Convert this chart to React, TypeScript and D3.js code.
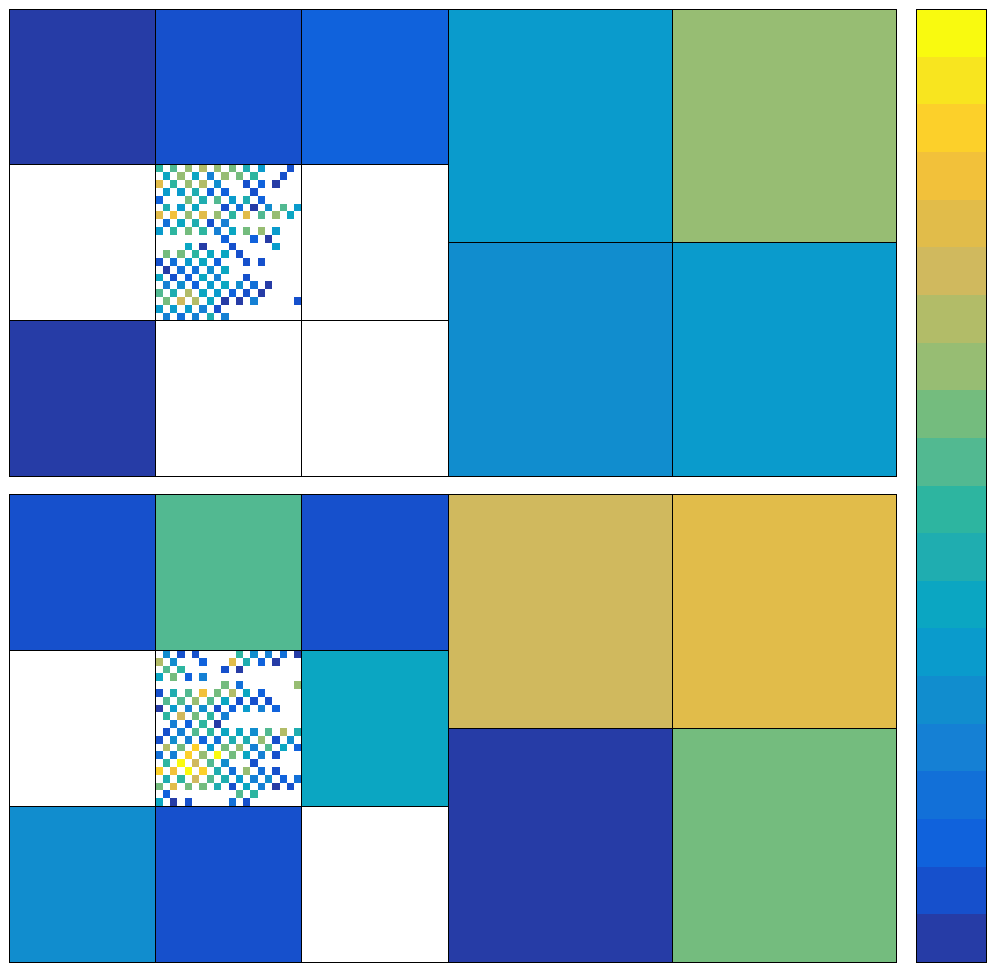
import React from "react";
import * as d3 from "d3";

const W = 996;
const H = 972;

// 20-level parula, low -> high
const levelColors = [
  "#263ca6", "#1650cc", "#1062dc", "#1270d8", "#1580d4",
  "#118dce", "#0a9bcc", "#0ba6c2", "#1fadb0", "#2db5a0",
  "#52b991", "#74bc7e", "#97bd73", "#b2bc68", "#d0b95e",
  "#e1bc4a", "#f2c13a", "#fcd02a", "#f8e51f", "#f9fa0f",
];

const FINE = "fine";
type Block = number | null | typeof FINE;

// 3x3 blocks (20x20 each) on the left, 2x2 blocks (30x30 each) on the right
const topLeftBlocks: Block[][] = [
  [0, 1, 2],
  [null, FINE, null],
  [0, null, null],
];
const topRightBlocks: Block[][] = [
  [6, 12],
  [5, 6],
];
const bottomLeftBlocks: Block[][] = [
  [1, 10, 1],
  [null, FINE, 7],
  [5, 1, null],
];
const bottomRightBlocks: Block[][] = [
  [14, 15],
  [0, 11],
];

// fine cells of the refined block: [row, col, level]
const topFineCells: [number, number, number][] = [
  [0, 0, 9], [0, 2, 10], [0, 4, 12], [0, 6, 13], [0, 8, 12], [0, 10, 11], [0, 12, 8], [0, 14, 6], [0, 18, 1],
  [1, 1, 7], [1, 3, 12], [1, 5, 7], [1, 7, 4], [1, 9, 12], [1, 11, 11], [1, 13, 9], [1, 17, 1],
  [2, 0, 15], [2, 2, 9], [2, 4, 12], [2, 6, 13], [2, 8, 5], [2, 12, 1], [2, 14, 2], [2, 16, 0],
  [3, 1, 6], [3, 3, 6], [3, 5, 8], [3, 7, 2], [3, 9, 2], [3, 13, 1],
  [4, 0, 2], [4, 4, 11], [4, 6, 8], [4, 8, 10], [4, 10, 6], [4, 12, 8], [4, 14, 2],
  [5, 1, 8], [5, 3, 6], [5, 5, 7], [5, 9, 1], [5, 11, 3], [5, 13, 0], [5, 15, 5], [5, 17, 10], [5, 19, 6],
  [6, 0, 15], [6, 2, 16], [6, 4, 12], [6, 6, 15], [6, 8, 12], [6, 10, 9], [6, 12, 15], [6, 14, 10], [6, 16, 12], [6, 18, 7],
  [7, 1, 3], [7, 3, 7], [7, 5, 8], [7, 7, 1], [7, 9, 4],
  [8, 0, 6], [8, 2, 9], [8, 4, 11], [8, 6, 9], [8, 8, 4], [8, 10, 7], [8, 12, 11], [8, 14, 12], [8, 16, 6],
  [9, 9, 2], [9, 13, 2], [9, 15, 0],
  [10, 4, 7], [10, 6, 0], [10, 10, 1], [10, 16, 6],
  [11, 1, 11], [11, 3, 11], [11, 5, 9], [11, 7, 7], [11, 9, 7], [11, 11, 1],
  [12, 0, 1], [12, 2, 3], [12, 4, 6], [12, 6, 7], [12, 8, 2], [12, 12, 1], [12, 14, 1],
  [13, 1, 0], [13, 3, 3], [13, 5, 3], [13, 7, 5], [13, 9, 7],
  [14, 0, 7], [14, 2, 1], [14, 4, 2], [14, 6, 7], [14, 8, 4], [14, 12, 1],
  [15, 1, 4], [15, 3, 5], [15, 5, 2], [15, 7, 6], [15, 9, 7], [15, 11, 5], [15, 13, 3], [15, 15, 0],
  [16, 0, 10], [16, 2, 8], [16, 4, 13], [16, 6, 7], [16, 8, 6], [16, 10, 2], [16, 12, 1], [16, 14, 0],
  [17, 1, 11], [17, 3, 14], [17, 5, 13], [17, 7, 7], [17, 9, 0], [17, 11, 0], [17, 13, 4], [17, 19, 1],
  [18, 0, 6], [18, 2, 6], [18, 4, 6], [18, 6, 4], [18, 8, 1],
  [19, 1, 4], [19, 3, 3], [19, 5, 4], [19, 7, 8], [19, 9, 4],
];

const bottomFineCells: [number, number, number][] = [
  [0, 1, 5], [0, 3, 1], [0, 5, 1], [0, 11, 9], [0, 13, 5], [0, 15, 4], [0, 17, 3], [0, 19, 0],
  [1, 0, 13], [1, 2, 5], [1, 6, 2], [1, 10, 15], [1, 12, 8], [1, 14, 2], [1, 16, 0],
  [2, 1, 10], [2, 3, 9], [2, 9, 1], [2, 11, 0],
  [3, 0, 7], [3, 2, 11], [3, 4, 2], [3, 6, 4],
  [4, 9, 11], [4, 11, 3], [4, 19, 12],
  [5, 0, 1], [5, 2, 8], [5, 4, 10], [5, 6, 16], [5, 8, 11], [5, 10, 13], [5, 12, 7], [5, 14, 2],
  [6, 1, 10], [6, 3, 10], [6, 5, 12], [6, 7, 10], [6, 9, 7], [6, 11, 1], [6, 13, 1], [6, 15, 1],
  [7, 0, 0], [7, 2, 6], [7, 4, 4], [7, 6, 5], [7, 8, 1], [7, 10, 2], [7, 12, 6], [7, 14, 4], [7, 16, 2],
  [8, 1, 9], [8, 3, 14], [8, 5, 11], [8, 7, 9], [8, 9, 4],
  [9, 2, 4], [9, 4, 2], [9, 6, 9], [9, 8, 0],
  [10, 1, 1], [10, 3, 4], [10, 5, 10], [10, 7, 9], [10, 9, 7], [10, 11, 7], [10, 13, 5], [10, 15, 10], [10, 17, 13], [10, 19, 8],
  [11, 0, 1], [11, 2, 5], [11, 4, 4], [11, 6, 2], [11, 8, 3], [11, 10, 8], [11, 12, 8], [11, 14, 12], [11, 16, 1], [11, 18, 5],
  [12, 1, 13], [12, 3, 11], [12, 5, 17], [12, 7, 6], [12, 9, 11], [12, 11, 12], [12, 13, 4], [12, 15, 10], [12, 17, 7], [12, 19, 2],
  [13, 0, 3], [13, 2, 4], [13, 4, 17], [13, 6, 12], [13, 8, 19], [13, 10, 11], [13, 12, 7], [13, 14, 4], [13, 16, 1],
  [14, 1, 9], [14, 3, 19], [14, 5, 14], [14, 7, 10], [14, 9, 5], [14, 13, 1],
  [15, 0, 17], [15, 2, 16], [15, 4, 19], [15, 6, 17], [15, 8, 8], [15, 10, 3], [15, 12, 12], [15, 14, 3], [15, 16, 1],
  [16, 1, 8], [16, 3, 9], [16, 5, 14], [16, 7, 10], [16, 9, 8], [16, 11, 6], [16, 13, 4], [16, 15, 5], [16, 17, 2], [16, 19, 3],
  [17, 0, 11], [17, 2, 15], [17, 4, 11], [17, 6, 11], [17, 8, 8], [17, 10, 1], [17, 12, 7], [17, 14, 4], [17, 16, 0], [17, 18, 1],
  [18, 1, 2], [18, 11, 10], [18, 13, 9],
  [19, 0, 7], [19, 2, 0], [19, 4, 1], [19, 10, 3], [19, 12, 1],
];

const panels = [
  { y: [9, 476], left: topLeftBlocks, right: topRightBlocks, fine: topFineCells },
  { y: [494, 962], left: bottomLeftBlocks, right: bottomRightBlocks, fine: bottomFineCells },
];

const N = 60; // matrix size per panel
const leftRange = [9, 448];
const rightRange = [448, 896];
const barRange = [916, 986];

function Panel({ y, left, right, fine }: any) {
  const yScale = d3.scaleLinear().domain([0, N]).range(y);
  const xLeft = d3.scaleLinear().domain([0, N]).range(leftRange);
  const xRight = d3.scaleLinear().domain([0, N]).range(rightRange);

  const blocks: any[] = [];
  left.forEach((row: Block[], i: number) =>
    row.forEach((v, j) => blocks.push({ x: xLeft, i: i * 20, j: j * 20, s: 20, v }))
  );
  right.forEach((row: Block[], i: number) =>
    row.forEach((v, j) => blocks.push({ x: xRight, i: i * 30, j: j * 30, s: 30, v }))
  );

  const cells: any[] = [];
  blocks
    .filter((b) => b.v === FINE)
    .forEach((b) =>
      fine.forEach(([r, c, v]: number[]) =>
        cells.push({ x: b.x, i: b.i + r, j: b.j + c, v })
      )
    );

  return (
    <g>
      {blocks.map((b, k) => (
        <rect
          key={"f" + k}
          x={b.x(b.j)}
          y={yScale(b.i)}
          width={b.x(b.j + b.s) - b.x(b.j)}
          height={yScale(b.i + b.s) - yScale(b.i)}
          fill={typeof b.v === "number" ? levelColors[b.v] : "#fff"}
        />
      ))}
      {cells.map((c, k) => (
        <rect
          key={"c" + k}
          x={c.x(c.j)}
          y={yScale(c.i)}
          width={c.x(c.j + 1) - c.x(c.j)}
          height={yScale(c.i + 1) - yScale(c.i)}
          fill={levelColors[c.v]}
        />
      ))}
      {blocks.map((b, k) => (
        <rect
          key={"o" + k}
          x={b.x(b.j)}
          y={yScale(b.i)}
          width={b.x(b.j + b.s) - b.x(b.j)}
          height={yScale(b.i + b.s) - yScale(b.i)}
          fill="none"
          stroke="#000"
          strokeWidth={1}
        />
      ))}
    </g>
  );
}

function Colorbar() {
  const yScale = d3.scaleLinear().domain([0, levelColors.length]).range([962, 9]);
  return (
    <g>
      {levelColors.map((c, i) => (
        <rect
          key={i}
          x={barRange[0]}
          y={yScale(i + 1)}
          width={barRange[1] - barRange[0]}
          height={yScale(i) - yScale(i + 1)}
          fill={c}
        />
      ))}
      <rect
        x={barRange[0]}
        y={yScale(levelColors.length)}
        width={barRange[1] - barRange[0]}
        height={yScale(0) - yScale(levelColors.length)}
        fill="none"
        stroke="#000"
      />
    </g>
  );
}

export default function App() {
  return (
    <svg
      width={W}
      height={H}
      shapeRendering="crispEdges"
      style={{ position: "absolute", left: 0, top: 0, background: "#fff" }}
    >
      {panels.map((p, i) => (
        <Panel key={i} {...p} />
      ))}
      <Colorbar />
    </svg>
  );
}
